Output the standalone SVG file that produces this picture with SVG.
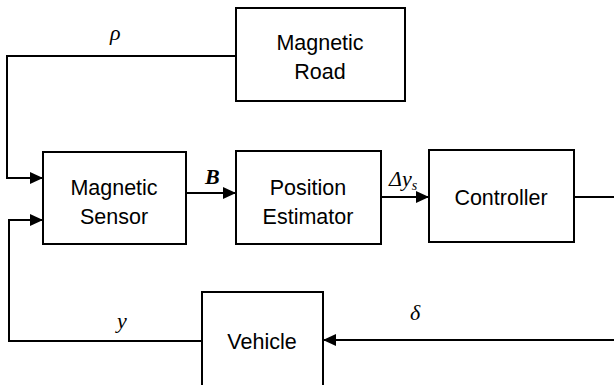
<svg xmlns="http://www.w3.org/2000/svg" width="614" height="385" viewBox="0 0 614 385">
<style>
.box{fill:#fff;stroke:#000;stroke-width:2}
.lbl{font-family:"Liberation Sans",Arial,sans-serif;font-size:21.5px;text-anchor:middle;fill:#000}
.sym{font-family:"Liberation Serif","Times New Roman",serif;font-style:italic;font-size:22px;fill:#000}
.wire{fill:none;stroke:#000;stroke-width:2}
</style>
<defs>
<marker id="ah" markerWidth="13" markerHeight="12" refX="13" refY="6" orient="auto" markerUnits="userSpaceOnUse" viewBox="0 0 13 12">
<path d="M0,0 L13,6 L0,12 Z" fill="#000"/>
</marker>
</defs>
<g id="connectors">
<path class="wire" d="M236,56 H7 V178 H43" marker-end="url(#ah)"/>
<path class="wire" d="M186,193 H236" marker-end="url(#ah)"/>
<path class="wire" d="M381,197 H429" marker-end="url(#ah)"/>
<path class="wire" d="M574,197 H614"/>
<path class="wire" d="M614,340 H323" marker-end="url(#ah)"/>
<path class="wire" d="M202,341 H9 V220 H43" marker-end="url(#ah)"/>
<text class="sym" x="110" y="40">ρ</text>
<text class="sym" x="205" y="184" font-weight="bold">B</text>
<text class="sym" x="389" y="186" font-size="19">Δy<tspan font-size="14" dy="4">s</tspan></text>
<text class="sym" x="117" y="328">y</text>
<text class="sym" x="410" y="320">δ</text>
</g>
<g id="road"><rect class="box" x="236" y="8" width="169" height="93"/><text class="lbl" x="320" y="50">Magnetic</text><text class="lbl" x="320" y="79">Road</text></g>
<g id="sensor"><rect class="box" x="43" y="152" width="143" height="92"/><text class="lbl" x="114" y="195">Magnetic</text><text class="lbl" x="114" y="224">Sensor</text></g>
<g id="estimator"><rect class="box" x="236" y="151" width="145" height="93"/><text class="lbl" x="308" y="195">Position</text><text class="lbl" x="308" y="224">Estimator</text></g>
<g id="controller"><rect class="box" x="429" y="150" width="145" height="92"/><text class="lbl" x="501" y="205">Controller</text></g>
<g id="vehicle"><rect class="box" x="202" y="292" width="121" height="96"/><text class="lbl" x="262" y="349">Vehicle</text></g>
</svg>
